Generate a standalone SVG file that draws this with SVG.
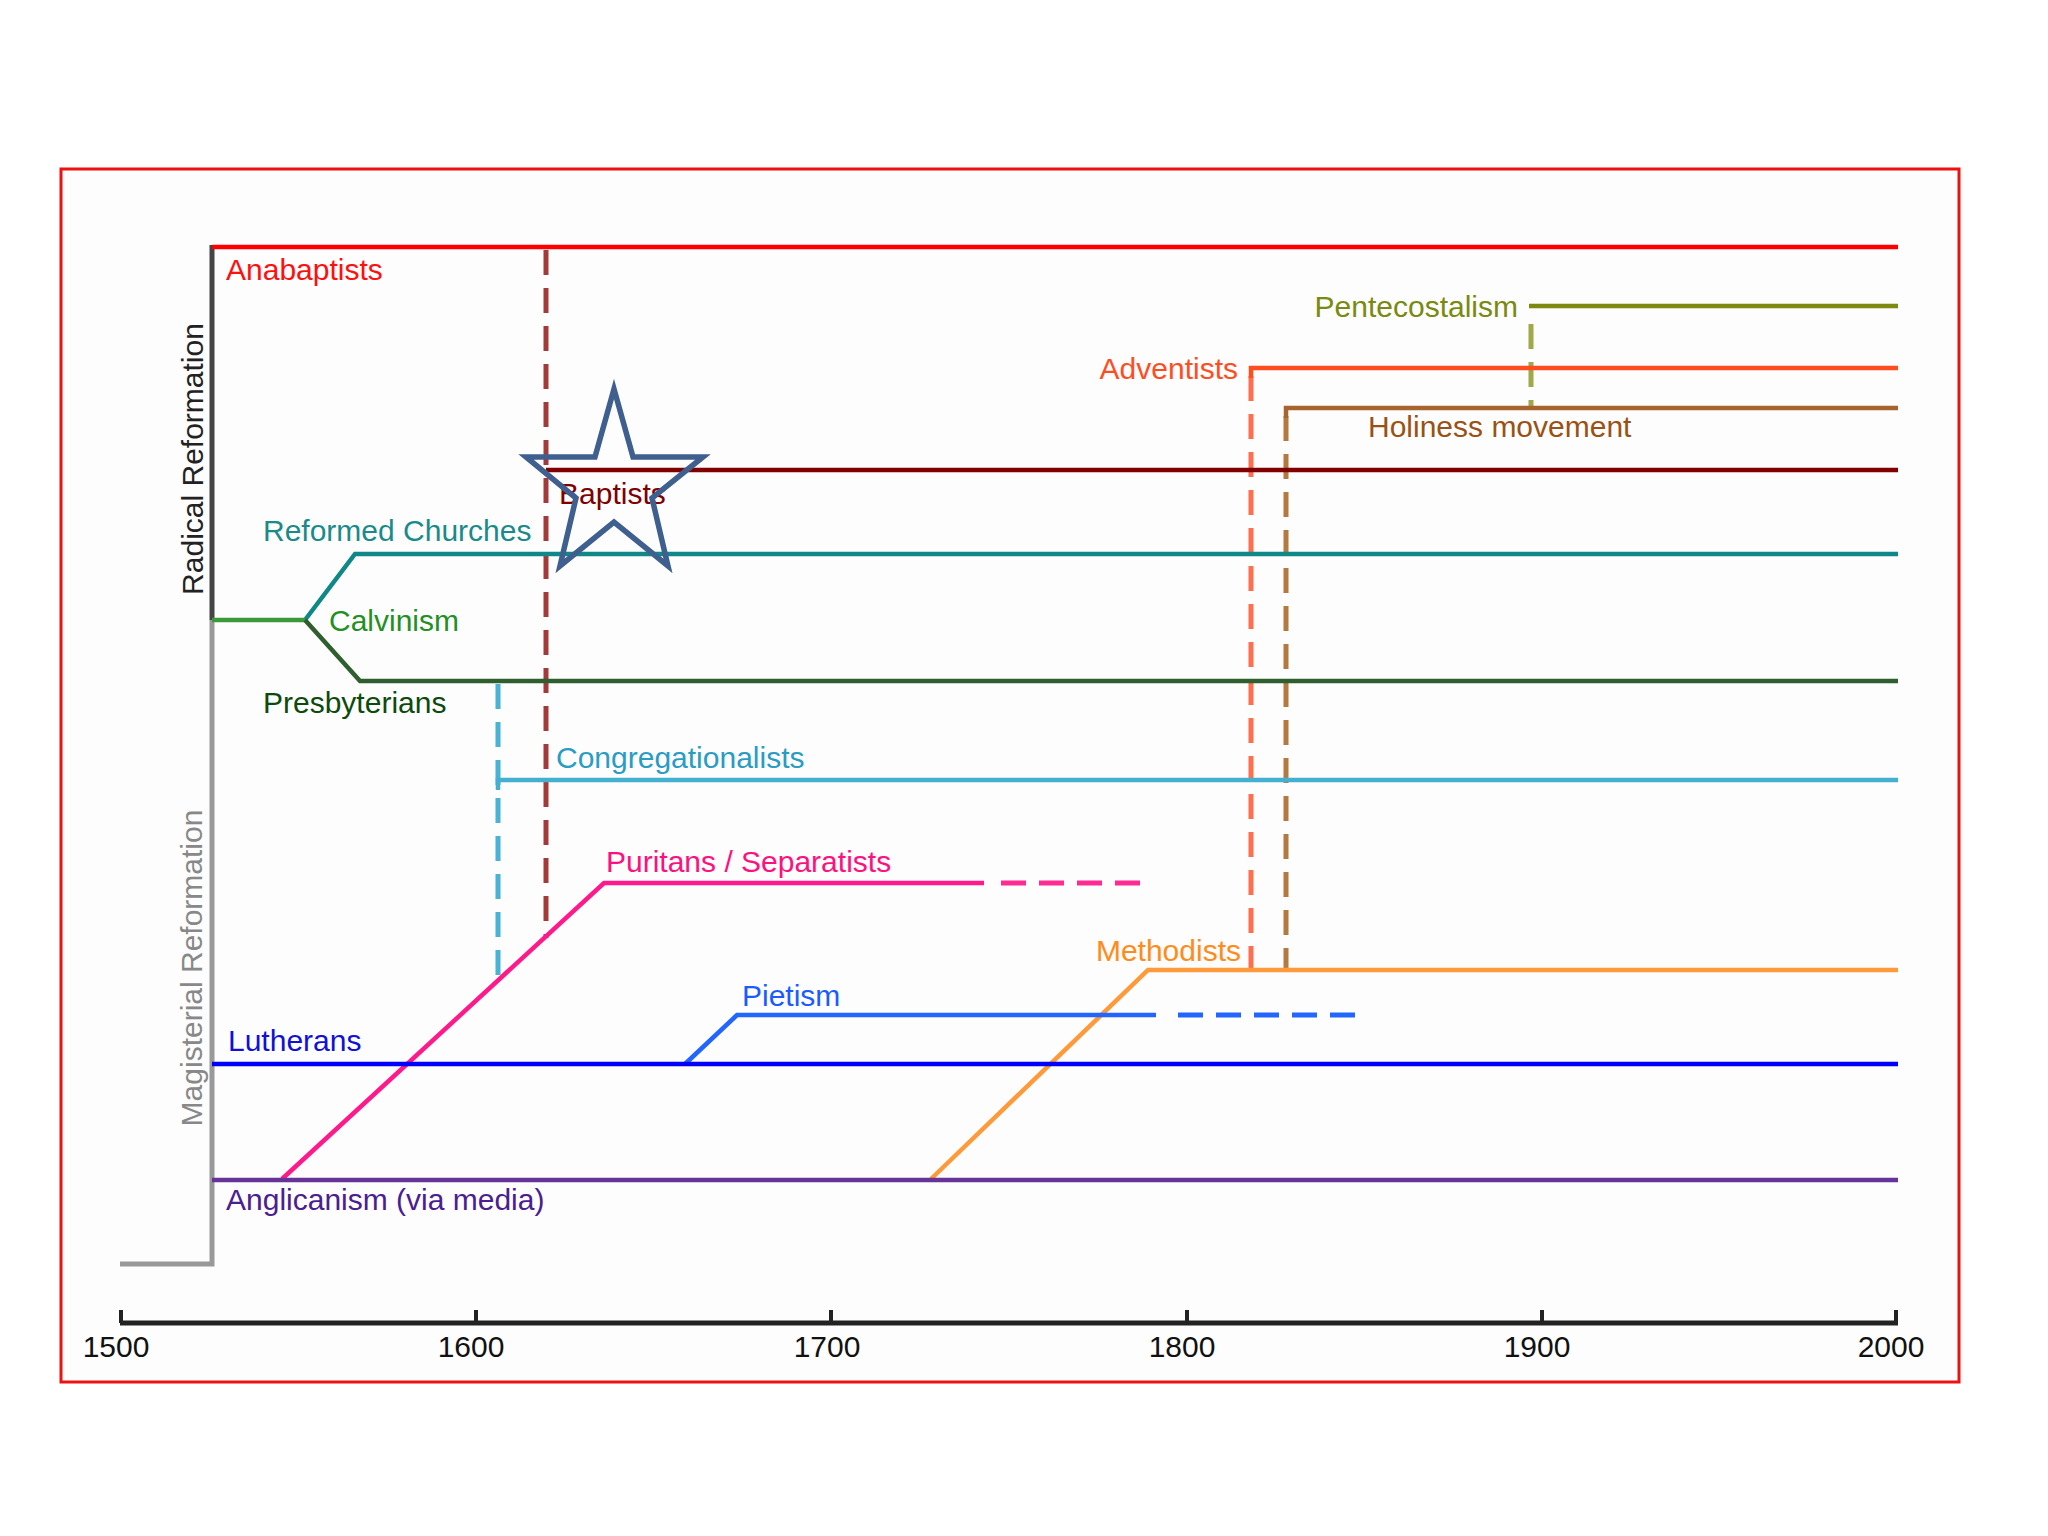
<svg xmlns="http://www.w3.org/2000/svg" width="2048" height="1536" viewBox="0 0 2048 1536">
<style>
text{font-family:"Liberation Sans",Arial,sans-serif;font-size:30px}
.ln{fill:none;stroke-width:4.5;stroke-linecap:butt;stroke-linejoin:miter}
.dash{fill:none;stroke-width:5;stroke-dasharray:25 13}
.tick{font-size:30px;fill:#111;text-anchor:middle}
</style>
<rect width="2048" height="1536" fill="#ffffff"/>
<rect x="61" y="169" width="1898" height="1213" fill="#fdfdfd" stroke="#ee1111" stroke-width="3"/>

<g id="axes">
<line x1="212" y1="245" x2="212" y2="620" stroke="#444" stroke-width="5"/>
<polyline points="212,620 212,1264 120,1264" fill="none" stroke="#999" stroke-width="5"/>
<text transform="translate(203,459) rotate(-90)" text-anchor="middle" fill="#222">Radical  Reformation</text>
<text transform="translate(202,968) rotate(-90)" text-anchor="middle" fill="#888">Magisterial  Reformation</text>
<line x1="120" y1="1323" x2="1898" y2="1323" stroke="#222" stroke-width="5"/>
<g stroke="#222" stroke-width="4">
<line x1="121" y1="1310" x2="121" y2="1323"/>
<line x1="476" y1="1310" x2="476" y2="1323"/>
<line x1="831" y1="1310" x2="831" y2="1323"/>
<line x1="1187" y1="1310" x2="1187" y2="1323"/>
<line x1="1542" y1="1310" x2="1542" y2="1323"/>
<line x1="1896" y1="1310" x2="1896" y2="1323"/>
</g>
<text class="tick" x="116" y="1357">1500</text>
<text class="tick" x="471" y="1357">1600</text>
<text class="tick" x="827" y="1357">1700</text>
<text class="tick" x="1182" y="1357">1800</text>
<text class="tick" x="1537" y="1357">1900</text>
<text class="tick" x="1891" y="1357">2000</text>
</g>

<g id="connectors">
<line class="dash" x1="546" y1="250" x2="546" y2="938" stroke="#a33a3a"/>
<line class="dash" x1="498" y1="684" x2="498" y2="977" stroke="#4ab2d2"/>
<line class="dash" x1="1251" y1="376" x2="1251" y2="969" stroke="#ff6e4e"/>
<line class="dash" x1="1286" y1="416" x2="1286" y2="969" stroke="#b37a40"/>
<line class="dash" x1="1531" y1="324" x2="1531" y2="408" stroke="#a0a84a"/>
<line class="dash" x1="1001" y1="883" x2="1140" y2="883" stroke="#ff2a92" stroke-width="4.5"/>
<line class="dash" x1="1178" y1="1015" x2="1356" y2="1015" stroke="#2266ff" stroke-width="4.5"/>
</g>

<g id="anabaptists">
<line class="ln" x1="212" y1="247" x2="1898" y2="247" stroke="#ff0000"/>
<text x="226" y="280" fill="#ff1010">Anabaptists</text>
</g>
<g id="pentecostalism">
<line class="ln" x1="1529" y1="306" x2="1898" y2="306" stroke="#7d8a12"/>
<text x="1518" y="317" text-anchor="end" fill="#7a8a10">Pentecostalism</text>
</g>
<g id="adventists">
<polyline class="ln" points="1251,378 1251,368 1898,368" stroke="#ff4d1f"/>
<text x="1238" y="379" text-anchor="end" fill="#ff4d1f">Adventists</text>
</g>
<g id="holiness">
<polyline class="ln" points="1286,418 1286,408 1898,408" stroke="#a8642e"/>
<text x="1368" y="437" fill="#9a5214">Holiness movement</text>
</g>
<g id="baptists">
<line class="ln" x1="546" y1="470" x2="1898" y2="470" stroke="#800000"/>
<text x="559" y="504" fill="#800000">Baptists</text>
</g>
<g id="reformed">
<polyline class="ln" points="305,620 355,554 1898,554" stroke="#108888"/>
<text x="263" y="541" fill="#1a8a8a">Reformed Churches</text>
</g>
<g id="calvinism">
<line class="ln" x1="212" y1="620" x2="305" y2="620" stroke="#3a9a3a"/>
<text x="329" y="631" fill="#229022">Calvinism</text>
</g>
<g id="presbyterians">
<polyline class="ln" points="305,620 360,681 1898,681" stroke="#2f5f2f"/>
<text x="263" y="713" fill="#0d4a0d">Presbyterians</text>
</g>
<g id="congregationalists">
<polyline class="ln" points="498,790 498,780 1898,780" stroke="#44b0d0"/>
<text x="556" y="768" fill="#2a9cc4">Congregationalists</text>
</g>
<g id="puritans">
<polyline class="ln" points="282,1179 604,883 984,883" stroke="#ff1a8c"/>
<text x="606" y="872" fill="#ff1080">Puritans / Separatists</text>
</g>
<g id="methodists">
<polyline class="ln" points="931,1179 1148,970 1898,970" stroke="#ff9a3a"/>
<text x="1241" y="961" text-anchor="end" fill="#ff8c1a">Methodists</text>
</g>
<g id="pietism">
<polyline class="ln" points="685,1064 737,1015 1156,1015" stroke="#2266ff"/>
<text x="742" y="1006" fill="#1a5cff">Pietism</text>
</g>
<g id="lutherans">
<line class="ln" x1="212" y1="1064" x2="1898" y2="1064" stroke="#0000ff"/>
<text x="228" y="1051" fill="#1010d8">Lutherans</text>
</g>
<g id="anglicanism">
<line class="ln" x1="212" y1="1180" x2="1898" y2="1180" stroke="#663399"/>
<text x="226" y="1210" fill="#4a2090">Anglicanism (via media)</text>
</g>

<g id="star">
<polygon points="614,389 633,457 703,457 652,498 668,566 614,522 560,566 576,498 526,457 595,457" fill="none" stroke="#3f5f8f" stroke-width="5.5" stroke-linejoin="miter"/>
</g>
</svg>
